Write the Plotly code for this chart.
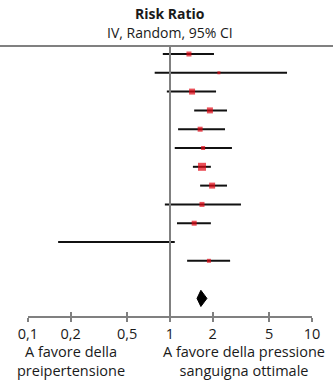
import math
import plotly.graph_objects as go

# ---- data ----
rows = list(range(12))
rr = [1.36, 2.21, 1.43, 1.91, 1.63, 1.71, 1.68, 1.98, 1.68, 1.48, 0.42, 1.88]
ci_lo = [0.89, 0.78, 0.95, 1.48, 1.14, 1.08, 1.45, 1.63, 0.92, 1.12, 0.163, 1.32]
ci_hi = [2.04, 6.67, 2.11, 2.52, 2.44, 2.73, 1.94, 2.52, 3.16, 1.94, 1.08, 2.65]
weight = [8.0, 2.9, 11.5, 11.5, 8.0, 5.1, 20.4, 11.5, 8.0, 8.0, 0.0, 5.1]
pooled_row = 13
pooled = 1.65
pooled_lo = 1.55
pooled_hi = 1.82
tick_vals = [0.1, 0.2, 0.5, 1, 2, 5, 10]
tick_text = ["0,1", "0,2", "0,5", "1", "2", "5", "10"]
title_1 = "Risk Ratio"
title_2 = "IV, Random, 95% CI"
left_label = "A favore della<br>preipertensione"
right_label = "A favore della pressione<br>sanguigna ottimale"

FONT = "Open Sans"
W, H = 333, 383
RED = "#e30613"
GRAY = "#808080"
TXT = "#1a1a1a"

fig = go.Figure()

# CI lines
xs, ys = [], []
for r, lo, hi in zip(rows, ci_lo, ci_hi):
    xs += [lo, hi, None]
    ys += [r, r, None]
fig.add_trace(go.Scatter(x=xs, y=ys, mode="lines",
                         line=dict(color="#111111", width=2),
                         hoverinfo="skip", showlegend=False))

# reference line at 1
top_y = -0.43
y_bottom = 13.936
y_top = -2.872
fig.add_trace(go.Scatter(x=[1, 1], y=[top_y, y_bottom], mode="lines",
                         line=dict(color=GRAY, width=2), showlegend=False,
                         hoverinfo="skip"))

# point estimates
sizes = [1.77 * math.sqrt(w) for w in weight]
fig.add_trace(go.Scatter(x=rr, y=rows, mode="markers",
                         marker=dict(symbol="square", color=RED, size=sizes,
                                     line=dict(width=0)),
                         showlegend=False))

# pooled diamond
h = 0.43
fig.add_trace(go.Scatter(x=[pooled_lo, pooled, pooled_hi, pooled, pooled_lo],
                         y=[pooled_row, pooled_row - h, pooled_row, pooled_row + h, pooled_row],
                         mode="lines", fill="toself", fillcolor="black",
                         line=dict(color="black", width=1), showlegend=False))

# invisible trace on xaxis2 to activate it
fig.add_trace(go.Scatter(x=[1], y=[y_bottom], xaxis="x2", yaxis="y",
                         mode="markers", marker=dict(opacity=0), showlegend=False,
                         hoverinfo="skip"))

x_domain = [28 / W, 312 / W]
y_domain = [67 / H, 1]

fig.update_layout(
    width=W, height=H, autosize=False,
    margin=dict(l=0, r=0, t=0, b=0, pad=0, autoexpand=False),
    paper_bgcolor="white", plot_bgcolor="white",
    showlegend=False,
    font=dict(family=FONT, size=14, color=TXT),
    xaxis=dict(type="log", range=[-1, 1], domain=x_domain,
               tickvals=tick_vals, ticktext=tick_text,
               ticks="outside", ticklen=4, tickwidth=2, tickcolor=GRAY,
               showline=True, linecolor=GRAY, linewidth=2,
               showgrid=False, zeroline=False, anchor="y", automargin=False,
               tickfont=dict(family=FONT, size=14.5, color=TXT)),
    xaxis2=dict(type="log", range=[-1, 1], domain=x_domain, overlaying="x",
                anchor="y", side="bottom", automargin=False,
                tickvals=tick_vals, ticks="inside", ticklen=4, tickwidth=2,
                tickcolor=GRAY, showticklabels=False, showline=False,
                showgrid=False, zeroline=False),
    yaxis=dict(range=[y_bottom, y_top], domain=y_domain, visible=False,
               automargin=False),
    shapes=[dict(type="line", xref="paper", yref="y", x0=0, x1=1,
                 y0=top_y, y1=top_y, line=dict(color=GRAY, width=2))],
    annotations=[
        dict(text="<b>" + title_1 + "</b>", xref="paper", yref="paper",
             x=170 / W, y=1 - 13 / H, xanchor="center", yanchor="middle",
             showarrow=False, font=dict(size=14, color=TXT)),
        dict(text=title_2, xref="paper", yref="paper",
             x=170 / W, y=1 - 33 / H, xanchor="center", yanchor="middle",
             showarrow=False, font=dict(size=14, color=TXT)),
        dict(text=left_label, xref="paper", yref="paper",
             x=71 / W, y=1 - 361 / H, xanchor="center", yanchor="middle",
             showarrow=False, font=dict(size=14.5, color=TXT)),
        dict(text=right_label, xref="paper", yref="paper",
             x=244 / W, y=1 - 361 / H, xanchor="center", yanchor="middle",
             showarrow=False, font=dict(size=14.5, color=TXT)),
    ],
)

fig.write_html("out.html",
               config={"responsive": False, "displayModeBar": False},
               post_script="document.body.style.margin='0';"
                           "document.body.style.overflow='hidden';")
